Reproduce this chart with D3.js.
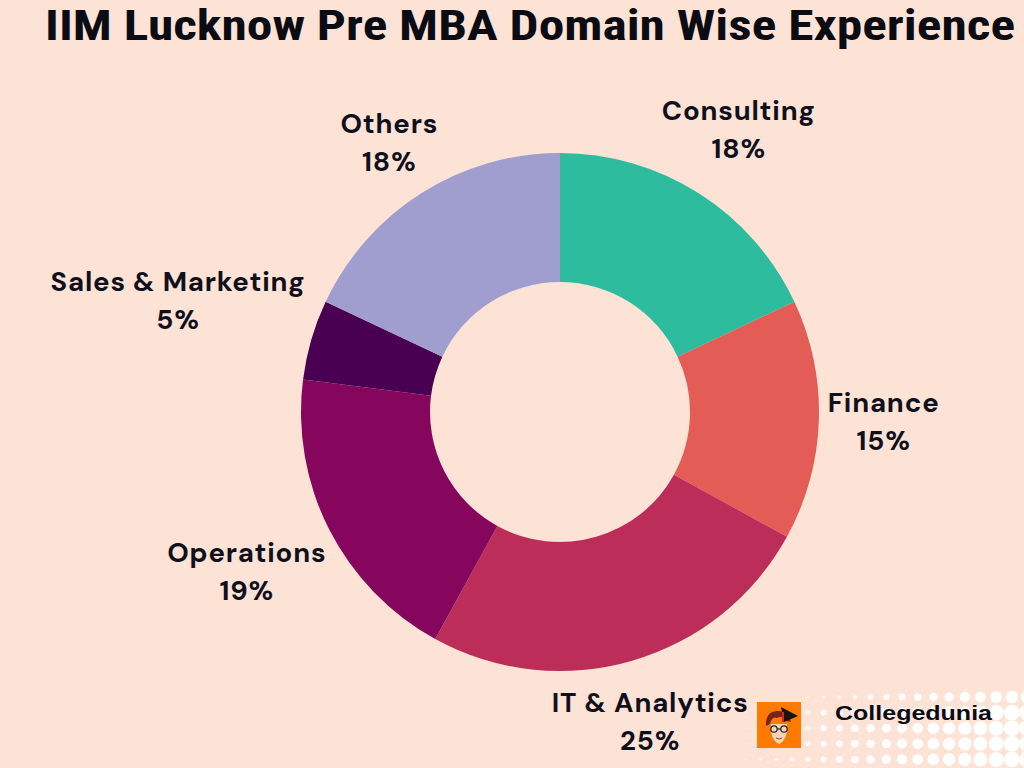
<!DOCTYPE html>
<html><head><meta charset="utf-8">
<script src="https://cdn.jsdelivr.net/npm/d3@7"></script>
<style>
html,body{margin:0;padding:0;background:#fde3d5;}
svg{display:block;}
</style></head>
<body>
<svg id="chart" width="1024" height="768"></svg>
<script>
const categories = ["Consulting","Finance","IT & Analytics","Operations","Sales & Marketing","Others"];
const values = [18,15,25,19,5,18];
const colors = ["#2dbd9e","#e35c56","#bc2d5a","#86065e","#4a0052","#a09ece"];
const title = "IIM Lucknow Pre MBA Domain Wise Experience";
const brand = "Collegedunia";

const W=1024,H=768, cx=560, cy=412, outerR=259, innerR=130;
const svg=d3.select("#chart");
svg.append("rect").attr("width",W).attr("height",H).attr("fill","#fde3d5");

// halftone decoration bottom-right
const dots=svg.append("g");
for(let y=697;y<775;y+=15.6){
  for(let x=745;x<1035;x+=15.7){
    let r = 0.8 + (x-745)/270*7.2;
    if(y<700) r -= 1.6;
    if(r<=0.4) continue;
    dots.append("circle").attr("cx",x).attr("cy",y).attr("r",Math.min(r,8.4)).attr("fill","#ffffff");
  }
}

const pie=d3.pie().sort(null).value(d=>d)(values);
const arc=d3.arc().innerRadius(innerR).outerRadius(outerR);
const g=svg.append("g").attr("transform",`translate(${cx},${cy})`);
g.selectAll("path").data(pie).join("path").attr("d",arc).attr("fill",(d,i)=>colors[i]);

// labels
const fontFam="'DM Sans','Inter','Lato','Open Sans',sans-serif";
const lg=svg.append("g");
pie.forEach((d,i)=>{
  const a=(d.startAngle+d.endAngle)/2;
  const t=lg.append("text").attr("font-family",fontFam).attr("font-weight",700)
    .attr("font-size",27.5).attr("letter-spacing",0.8).attr("fill","#10101c").attr("text-anchor","middle");
  const l1=t.append("tspan").attr("x",0).attr("dy",0).text(categories[i]);
  const l2=t.append("tspan").attr("x",0).attr("dy",38).text(values[i]+"%");
  const hw=l1.node().getComputedTextLength()/2;
  const ext=hw*Math.abs(Math.sin(a))+30*Math.abs(Math.cos(a));
  const dist=267+ext;
  const px=cx+dist*Math.sin(a), py=cy-dist*Math.cos(a);
  t.attr("transform",`translate(${px},${py-10})`);
});

// title
svg.append("text").attr("x",530).attr("y",40).attr("text-anchor","middle")
  .attr("font-family","'Liberation Sans Narrow','Roboto Condensed','DejaVu Sans Condensed','Liberation Sans',sans-serif")
  .attr("font-stretch","condensed").attr("font-weight",700)
  .attr("font-size",42).attr("fill","#0b0b14")
  .attr("textLength",970).attr("lengthAdjust","spacingAndGlyphs").text(title);

// logo
const lo=svg.append("g").attr("transform","translate(757,702)");
lo.append("rect").attr("width",44).attr("height",46).attr("fill","#ff7a00");
lo.append("path").attr("d","M14,22 Q13,38 22,42 Q31,38 30,22 Z").attr("fill","#f6d3b8");
lo.append("path").attr("d","M9,24 Q8,10 20,9 Q32,8 34,20 L30,19 Q25,13 20,16 Q15,14 13,22 Z").attr("fill","#7a2418");
lo.append("path").attr("d","M24,5 L41,14 L27,20 Z").attr("fill","#151515");
lo.append("line").attr("x1",26).attr("y1",10).attr("x2",26).attr("y2",20).attr("stroke","#e31e24").attr("stroke-width",2);
lo.append("circle").attr("cx",17).attr("cy",27).attr("r",3.2).attr("fill","none").attr("stroke","#222").attr("stroke-width",1.2);
lo.append("circle").attr("cx",27).attr("cy",27).attr("r",3.2).attr("fill","none").attr("stroke","#222").attr("stroke-width",1.2);
lo.append("line").attr("x1",20.2).attr("y1",27).attr("x2",23.8).attr("y2",27).attr("stroke","#222").attr("stroke-width",1.2);
lo.append("path").attr("d","M19,36 Q22,38 25,36").attr("fill","none").attr("stroke","#8a4a3a").attr("stroke-width",1);

svg.append("text").attr("x",835).attr("y",720).attr("font-family","'Liberation Sans',Arial,sans-serif")
  .attr("font-weight",700).attr("font-size",20).attr("fill","#0b0b14").attr("textLength",157)
  .attr("lengthAdjust","spacingAndGlyphs").text(brand);
</script>
</body></html>
